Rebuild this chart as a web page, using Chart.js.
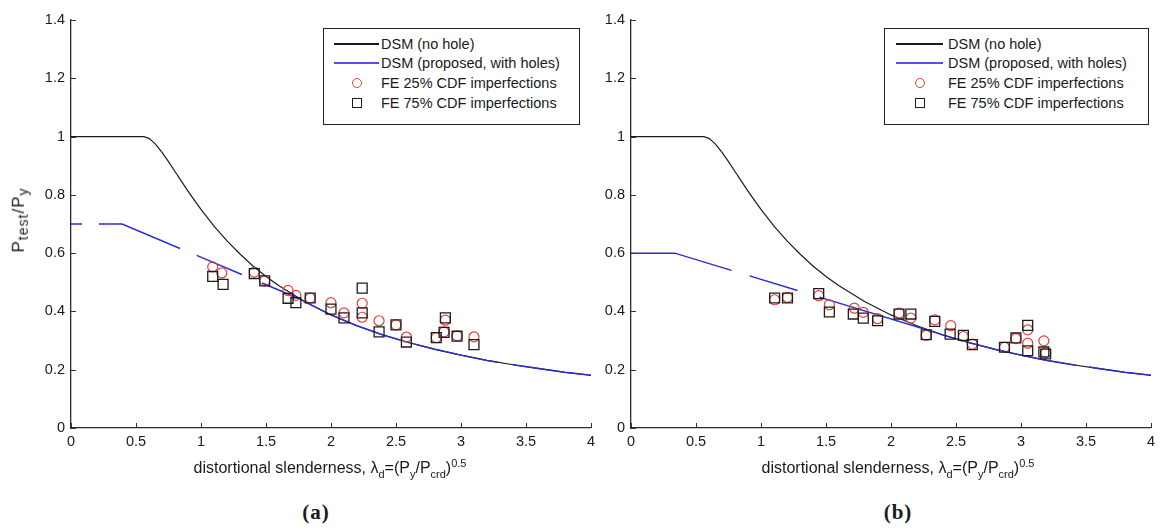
<!DOCTYPE html>
<html>
<head>
<meta charset="utf-8">
<script src="https://cdn.jsdelivr.net/npm/chart.js@4.4.1/dist/chart.umd.min.js"></script>
<style>
  body { margin: 0; background: #fff; font-family: "Liberation Sans", Arial, sans-serif; color: #1a1a1a; }
  #page { position: relative; width: 1160px; height: 531px; overflow: hidden; }
  canvas { position: absolute; top: 0; }
  .legend { position: absolute; top: 28px; height: 95px; border: 1px solid #222; background: #fff; font-size: 14.5px; }
  .row { position: absolute; left: 0; height: 18px; line-height: 18px; white-space: nowrap; }
  .row .txt { position: absolute; top: 0; }
  .sample { position: absolute; top: 8px; height: 1.5px; }
  .circ { position: absolute; top: 4px; width: 8px; height: 8px; border: 1.3px solid #e2413b; border-radius: 50%; }
  .sq { position: absolute; top: 4px; width: 8px; height: 8px; border: 1.3px solid #1c1c1c; }
  .xtitle { position: absolute; top: 457px; font-size: 16px; white-space: nowrap; transform: translateX(-50%); }
  .xtitle sub { font-size: 11px; }
  .xtitle sup { font-size: 11px; }
  .ytitle { position: absolute; font-size: 17px; letter-spacing: 1px; white-space: nowrap; transform: translate(-50%, -50%) rotate(-90deg); }
  .ytitle sub { font-size: 14px; }
  .cap { position: absolute; top: 500px; font-family: "Liberation Serif", "DejaVu Serif", serif; font-weight: bold; font-size: 21px; letter-spacing: 1px; transform: translateX(-50%); }
</style>
</head>
<body>
<div id="page">
  <canvas id="chartA" width="600" height="460" style="left:0px"></canvas>
  <canvas id="chartB" width="600" height="460" style="left:560px"></canvas>

  <div class="ytitle" style="left:20px; top:220px">P<sub>test</sub>/P<sub>y</sub></div>
  <div class="xtitle" style="left:330px">distortional slenderness, &lambda;<sub>d</sub>=(P<sub>y</sub>/P<sub>crd</sub>)<sup>0.5</sup></div>
  <div class="xtitle" style="left:898px">distortional slenderness, &lambda;<sub>d</sub>=(P<sub>y</sub>/P<sub>crd</sub>)<sup>0.5</sup></div>
  <div class="cap" style="left:316px">(a)</div>
  <div class="cap" style="left:898px">(b)</div>
  <div id="legA" class="legend" style="left:323px; width:255px"></div>
  <div id="legB" class="legend" style="left:884px; width:263px"></div>
</div>

<script>
// axis ticks
var xTickVals = [0, 0.5, 1, 1.5, 2, 2.5, 3, 3.5, 4];
var yTickVals = [0, 0.2, 0.4, 0.6, 0.8, 1, 1.2, 1.4];

// DSM curve, no hole
var lamDsm = [0, 0.561, 0.6, 0.65, 0.7, 0.75, 0.8, 0.85, 0.9, 0.95, 1.0, 1.1, 1.2, 1.3, 1.4, 1.5, 1.6, 1.8, 2.0, 2.2, 2.4, 2.6, 2.8, 3.0, 3.2, 3.4, 3.6, 3.8, 4.0];
var dsmNoHole = [1, 1, 0.994, 0.974, 0.946, 0.914, 0.880, 0.846, 0.813, 0.781, 0.750, 0.693, 0.642, 0.597, 0.556, 0.520, 0.488, 0.433, 0.388, 0.351, 0.319, 0.293, 0.270, 0.250, 0.232, 0.217, 0.204, 0.191, 0.181];

// proposed DSM with holes, panel (a) and (b)
var lamHoleA = [0, 0.393, 1.765, 1.8, 2.0, 2.2, 2.4, 2.6, 2.8, 3.0, 3.2, 3.4, 3.6, 3.8, 4.0];
var holeA = [0.70, 0.70, 0.442, 0.433, 0.388, 0.351, 0.319, 0.293, 0.270, 0.250, 0.232, 0.217, 0.204, 0.191, 0.181];
var lamHoleB = [0, 0.337, 2.342, 2.4, 2.6, 2.8, 3.0, 3.2, 3.4, 3.6, 3.8, 4.0];
var holeB = [0.60, 0.60, 0.328, 0.319, 0.293, 0.270, 0.250, 0.232, 0.217, 0.204, 0.191, 0.181];

// FE results, panel (a)
var fe25aX = [1.09, 1.16, 1.41, 1.49, 1.67, 1.73, 1.84, 2.0, 2.1, 2.24, 2.24, 2.37, 2.5, 2.58, 2.81, 2.88, 2.87, 2.97, 3.1];
var fe25aY = [0.553, 0.532, 0.535, 0.505, 0.472, 0.455, 0.446, 0.430, 0.395, 0.428, 0.380, 0.368, 0.354, 0.312, 0.310, 0.370, 0.330, 0.316, 0.313];
var fe75aX = [1.09, 1.17, 1.41, 1.49, 1.67, 1.73, 1.84, 2.0, 2.1, 2.24, 2.24, 2.37, 2.5, 2.58, 2.81, 2.87, 2.88, 2.97, 3.1];
var fe75aY = [0.520, 0.493, 0.530, 0.505, 0.445, 0.430, 0.446, 0.408, 0.378, 0.480, 0.395, 0.330, 0.354, 0.295, 0.310, 0.328, 0.378, 0.315, 0.286];

// FE results, panel (b)
var fe25bX = [1.105, 1.204, 1.444, 1.526, 1.718, 1.787, 1.897, 2.062, 2.153, 2.271, 2.337, 2.46, 2.557, 2.626, 2.873, 2.961, 3.052, 3.052, 3.176, 3.19];
var fe25bY = [0.440, 0.448, 0.454, 0.423, 0.411, 0.397, 0.375, 0.394, 0.377, 0.318, 0.371, 0.351, 0.314, 0.288, 0.277, 0.307, 0.337, 0.291, 0.299, 0.258];
var fe75bX = [1.105, 1.204, 1.444, 1.526, 1.71, 1.787, 1.897, 2.062, 2.153, 2.271, 2.337, 2.455, 2.557, 2.626, 2.873, 2.961, 3.052, 3.052, 3.176, 3.19];
var fe75bY = [0.446, 0.446, 0.461, 0.398, 0.391, 0.377, 0.368, 0.391, 0.391, 0.320, 0.366, 0.322, 0.318, 0.286, 0.277, 0.309, 0.352, 0.265, 0.261, 0.254];

var legendLabels = ["DSM (no hole)", "DSM (proposed, with holes)", "FE 25% CDF imperfections", "FE 75% CDF imperfections"];

var BLACK = "#1c1c1c", BLUE = "#2d2dd2", RED = "#e2413b";

// broken stroke of the blue line, lengths along the path in px
var dashA = [11, 17, 86, 18, 49, 22, 150, 15, 85, 15, 2000];
var dashB = [103, 19, 50, 23, 266, 13, 2000];

function pts(xs, ys) {
	return xs.map(function (x, i) { return {x: x, y: ys[i]}; });
}

// matlab style ticks, pointing into the plot
var innerTicks = {
	id: "innerTicks",
	afterDraw: function (chart) {
		var ctx = chart.ctx, a = chart.chartArea;
		var xs = chart.scales.x, ys = chart.scales.y;
		ctx.save();
		ctx.strokeStyle = "#333";
		ctx.lineWidth = 1;
		ctx.beginPath();
		xs.ticks.forEach(function (t) {
			var px = Math.round(xs.getPixelForValue(t.value)) + 0.5;
			ctx.moveTo(px, a.bottom);
			ctx.lineTo(px, a.bottom - 5);
		});
		ys.ticks.forEach(function (t) {
			var py = Math.round(ys.getPixelForValue(t.value)) + 0.5;
			ctx.moveTo(a.left, py);
			ctx.lineTo(a.left + 5, py);
		});
		ctx.stroke();
		ctx.restore();
	}
};

function tickText(v) {
	return String(Math.round(v * 10) / 10);
}

function makePanel(id, holeX, holeY, c25x, c25y, s75x, s75y, dash) {
	var tickFont = {family: "'Liberation Sans', Arial, sans-serif", size: 14.5};
	return new Chart(document.getElementById(id), {
		type: "scatter",
		data: {
			datasets: [
				{label: legendLabels[0], data: pts(lamDsm, dsmNoHole), showLine: true, borderColor: BLACK, borderWidth: 1.2, pointRadius: 0, tension: 0, order: 4},
				{label: legendLabels[1], data: pts(holeX, holeY), showLine: true, borderColor: BLUE, borderWidth: 1.5, borderDash: dash, pointRadius: 0, tension: 0, order: 3},
				{label: legendLabels[2], data: pts(c25x, c25y), pointStyle: "circle", pointRadius: 5, borderColor: RED, backgroundColor: "rgba(0,0,0,0)", borderWidth: 1.2, order: 2},
				{label: legendLabels[3], data: pts(s75x, s75y), pointStyle: "rect", pointRadius: 7, borderColor: BLACK, backgroundColor: "rgba(0,0,0,0)", borderWidth: 1.3, order: 1}
			]
		},
		options: {
			responsive: false,
			animation: false,
			events: [],
			layout: {padding: {left: 0, top: 20, right: 9, bottom: 0}},
			plugins: {legend: {display: false}, tooltip: {enabled: false}},
			scales: {
				x: {
					type: "linear", min: 0, max: 4,
					afterBuildTicks: function (s) { s.ticks = xTickVals.map(function (v) { return {value: v}; }); },
					afterFit: function (s) { s.height = 32; },
					grid: {display: true, drawOnChartArea: false, drawTicks: false},
					border: {display: true, color: "#2b2b2b", width: 1.3},
					ticks: {color: "#1a1a1a", font: tickFont, padding: 5, maxRotation: 0, callback: tickText}
				},
				y: {
					type: "linear", min: 0, max: 1.4,
					afterBuildTicks: function (s) { s.ticks = yTickVals.map(function (v) { return {value: v}; }); },
					afterFit: function (s) { s.width = 71; },
					grid: {display: true, drawOnChartArea: false, drawTicks: false},
					border: {display: true, color: "#2b2b2b", width: 1.3},
					ticks: {color: "#1a1a1a", font: tickFont, padding: 6, callback: tickText}
				}
			}
		},
		plugins: [innerTicks]
	});
}

function buildLegend(id, lineLeft, lineLen, textLeft) {
	var el = document.getElementById(id);
	var tops = [6, 25, 45, 65];
	var html = "";
	for (var i = 0; i < 4; i++) {
		var mark;
		if (i === 0) mark = '<div class="sample" style="left:' + lineLeft + 'px;width:' + lineLen + 'px;background:' + BLACK + '"></div>';
		else if (i === 1) mark = '<div class="sample" style="left:' + lineLeft + 'px;width:' + lineLen + 'px;background:#5050e6"></div>';
		else if (i === 2) mark = '<div class="circ" style="left:' + (lineLeft + lineLen / 2 - 5) + 'px"></div>';
		else mark = '<div class="sq" style="left:' + (lineLeft + lineLen / 2 - 5) + 'px"></div>';
		html += '<div class="row" style="top:' + tops[i] + 'px">' + mark + '<span class="txt" style="left:' + textLeft + 'px">' + legendLabels[i] + '</span></div>';
	}
	el.innerHTML = html;
}

makePanel("chartA", lamHoleA, holeA, fe25aX, fe25aY, fe75aX, fe75aY, dashA);
makePanel("chartB", lamHoleB, holeB, fe25bX, fe25bY, fe75bX, fe75bY, dashB);
buildLegend("legA", 10, 45, 57);
buildLegend("legB", 11, 47, 63);
</script>
</body>
</html>
